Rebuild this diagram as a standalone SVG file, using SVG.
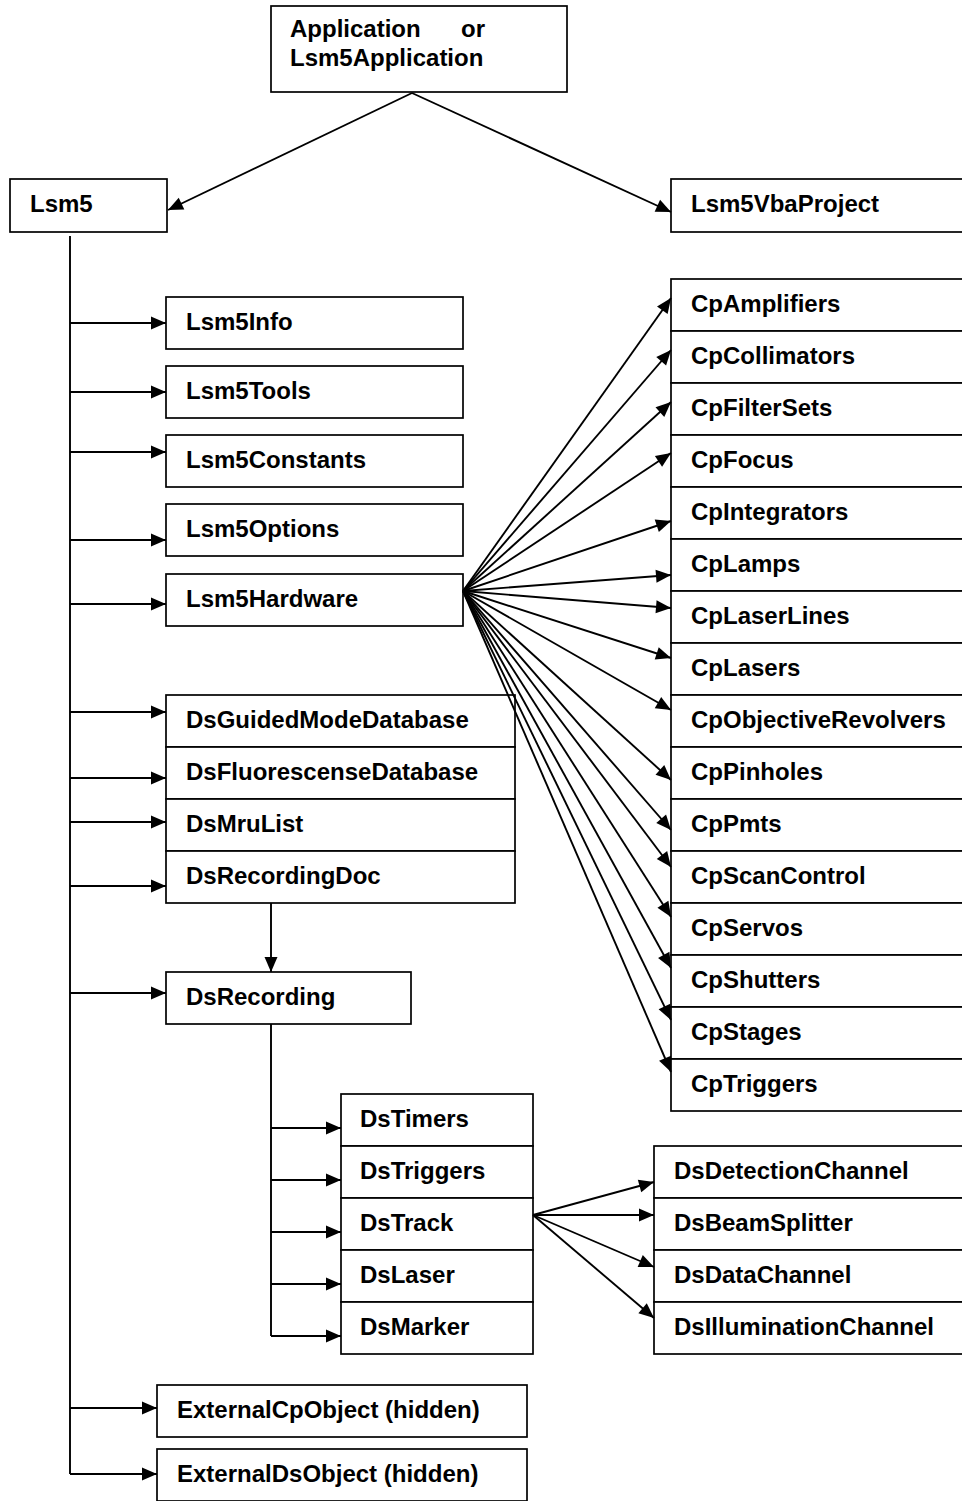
<svg xmlns="http://www.w3.org/2000/svg" width="962" height="1501" viewBox="0 0 962 1501">
<style>
.b{fill:#fff;stroke:#000;stroke-width:1.7}
.t{font-family:"Liberation Sans",Arial,sans-serif;font-weight:bold;font-size:24px;fill:#000}
.c line{stroke:#000;stroke-width:1.9;fill:none}
.c .a{marker-end:url(#ah)}
</style>
<defs>
<marker id="ah" markerUnits="userSpaceOnUse" markerWidth="16" markerHeight="13" refX="15" refY="6.5" orient="auto" overflow="visible">
<path d="M0,0 L15,6.5 L0,13 Z" fill="#000"/>
</marker>
</defs>
<rect width="962" height="1501" fill="#fff"/>

<g id="app"><rect class="b" x="271" y="6" width="296" height="86"/><text class="t" y="37"><tspan x="290">Application</tspan><tspan x="461">or</tspan></text><text class="t" x="290" y="66">Lsm5Application</text></g>
<g id="lsm5"><rect class="b" x="10" y="179" width="157" height="53"/><text class="t" x="30" y="212">Lsm5</text></g>
<g id="vba"><rect class="b" x="671" y="179" width="310" height="53"/><text class="t" x="691" y="212">Lsm5VbaProject</text></g>

<g id="lsm5info"><rect class="b" x="166" y="297" width="297" height="52"/><text class="t" x="186" y="330">Lsm5Info</text></g>
<g id="lsm5tools"><rect class="b" x="166" y="366" width="297" height="52"/><text class="t" x="186" y="399">Lsm5Tools</text></g>
<g id="lsm5constants"><rect class="b" x="166" y="435" width="297" height="52"/><text class="t" x="186" y="468">Lsm5Constants</text></g>
<g id="lsm5options"><rect class="b" x="166" y="504" width="297" height="52"/><text class="t" x="186" y="537">Lsm5Options</text></g>
<g id="lsm5hardware"><rect class="b" x="166" y="574" width="297" height="52"/><text class="t" x="186" y="607">Lsm5Hardware</text></g>

<g id="dsguided"><rect class="b" x="166" y="695" width="349" height="52"/><text class="t" x="186" y="728">DsGuidedModeDatabase</text></g>
<g id="dsfluor"><rect class="b" x="166" y="747" width="349" height="52"/><text class="t" x="186" y="780">DsFluorescenseDatabase</text></g>
<g id="dsmru"><rect class="b" x="166" y="799" width="349" height="52"/><text class="t" x="186" y="832">DsMruList</text></g>
<g id="dsrecdoc"><rect class="b" x="166" y="851" width="349" height="52"/><text class="t" x="186" y="884">DsRecordingDoc</text></g>
<g id="dsrec"><rect class="b" x="166" y="972" width="245" height="52"/><text class="t" x="186" y="1005">DsRecording</text></g>

<g id="dstimers"><rect class="b" x="341" y="1094" width="192" height="52"/><text class="t" x="360" y="1127">DsTimers</text></g>
<g id="dstriggers"><rect class="b" x="341" y="1146" width="192" height="52"/><text class="t" x="360" y="1179">DsTriggers</text></g>
<g id="dstrack"><rect class="b" x="341" y="1198" width="192" height="52"/><text class="t" x="360" y="1231">DsTrack</text></g>
<g id="dslaser"><rect class="b" x="341" y="1250" width="192" height="52"/><text class="t" x="360" y="1283">DsLaser</text></g>
<g id="dsmarker"><rect class="b" x="341" y="1302" width="192" height="52"/><text class="t" x="360" y="1335">DsMarker</text></g>

<g id="dsdetection"><rect class="b" x="654" y="1146" width="320" height="52"/><text class="t" x="674" y="1179">DsDetectionChannel</text></g>
<g id="dsbeam"><rect class="b" x="654" y="1198" width="320" height="52"/><text class="t" x="674" y="1231">DsBeamSplitter</text></g>
<g id="dsdata"><rect class="b" x="654" y="1250" width="320" height="52"/><text class="t" x="674" y="1283">DsDataChannel</text></g>
<g id="dsillum"><rect class="b" x="654" y="1302" width="320" height="52"/><text class="t" x="674" y="1335">DsIlluminationChannel</text></g>

<g id="extcp"><rect class="b" x="157" y="1385" width="370" height="52"/><text class="t" x="177" y="1418">ExternalCpObject (hidden)</text></g>
<g id="extds"><rect class="b" x="157" y="1449" width="370" height="52"/><text class="t" x="177" y="1482">ExternalDsObject (hidden)</text></g>

<g id="cpamplifiers"><rect class="b" x="671" y="279" width="310" height="52"/><text class="t" x="691" y="312">CpAmplifiers</text></g>
<g id="cpcollimators"><rect class="b" x="671" y="331" width="310" height="52"/><text class="t" x="691" y="364">CpCollimators</text></g>
<g id="cpfiltersets"><rect class="b" x="671" y="383" width="310" height="52"/><text class="t" x="691" y="416">CpFilterSets</text></g>
<g id="cpfocus"><rect class="b" x="671" y="435" width="310" height="52"/><text class="t" x="691" y="468">CpFocus</text></g>
<g id="cpintegrators"><rect class="b" x="671" y="487" width="310" height="52"/><text class="t" x="691" y="520">CpIntegrators</text></g>
<g id="cplamps"><rect class="b" x="671" y="539" width="310" height="52"/><text class="t" x="691" y="572">CpLamps</text></g>
<g id="cplaserlines"><rect class="b" x="671" y="591" width="310" height="52"/><text class="t" x="691" y="624">CpLaserLines</text></g>
<g id="cplasers"><rect class="b" x="671" y="643" width="310" height="52"/><text class="t" x="691" y="676">CpLasers</text></g>
<g id="cpobjrev"><rect class="b" x="671" y="695" width="310" height="52"/><text class="t" x="691" y="728">CpObjectiveRevolvers</text></g>
<g id="cppinholes"><rect class="b" x="671" y="747" width="310" height="52"/><text class="t" x="691" y="780">CpPinholes</text></g>
<g id="cppmts"><rect class="b" x="671" y="799" width="310" height="52"/><text class="t" x="691" y="832">CpPmts</text></g>
<g id="cpscancontrol"><rect class="b" x="671" y="851" width="310" height="52"/><text class="t" x="691" y="884">CpScanControl</text></g>
<g id="cpservos"><rect class="b" x="671" y="903" width="310" height="52"/><text class="t" x="691" y="936">CpServos</text></g>
<g id="cpshutters"><rect class="b" x="671" y="955" width="310" height="52"/><text class="t" x="691" y="988">CpShutters</text></g>
<g id="cpstages"><rect class="b" x="671" y="1007" width="310" height="52"/><text class="t" x="691" y="1040">CpStages</text></g>
<g id="cptriggers"><rect class="b" x="671" y="1059" width="310" height="52"/><text class="t" x="691" y="1092">CpTriggers</text></g>

<g id="connectors" class="c">
<line class="a" x1="412" y1="93" x2="168" y2="210"/>
<line class="a" x1="412" y1="93" x2="671" y2="212"/>
<line x1="70" y1="236" x2="70" y2="1474"/>
<line class="a" x1="70" y1="323" x2="166" y2="323"/>
<line class="a" x1="70" y1="392" x2="166" y2="392"/>
<line class="a" x1="70" y1="452" x2="166" y2="452"/>
<line class="a" x1="70" y1="540" x2="166" y2="540"/>
<line class="a" x1="70" y1="604" x2="166" y2="604"/>
<line class="a" x1="70" y1="712" x2="166" y2="712"/>
<line class="a" x1="70" y1="778" x2="166" y2="778"/>
<line class="a" x1="70" y1="822" x2="166" y2="822"/>
<line class="a" x1="70" y1="886" x2="166" y2="886"/>
<line class="a" x1="70" y1="993" x2="166" y2="993"/>
<line class="a" x1="70" y1="1408" x2="157" y2="1408"/>
<line class="a" x1="70" y1="1474" x2="157" y2="1474"/>
<line class="a" x1="271" y1="903" x2="271" y2="972"/>
<line x1="271" y1="1024" x2="271" y2="1336"/>
<line class="a" x1="271" y1="1128" x2="341" y2="1128"/>
<line class="a" x1="271" y1="1180" x2="341" y2="1180"/>
<line class="a" x1="271" y1="1232" x2="341" y2="1232"/>
<line class="a" x1="271" y1="1284" x2="341" y2="1284"/>
<line class="a" x1="271" y1="1336" x2="341" y2="1336"/>
<line class="a" x1="533" y1="1215" x2="654" y2="1182"/>
<line class="a" x1="533" y1="1215" x2="654" y2="1215"/>
<line class="a" x1="533" y1="1215" x2="654" y2="1267"/>
<line class="a" x1="533" y1="1215" x2="654" y2="1318"/>
<line class="a" x1="463" y1="591" x2="671" y2="298"/>
<line class="a" x1="463" y1="591" x2="671" y2="350"/>
<line class="a" x1="463" y1="591" x2="671" y2="402"/>
<line class="a" x1="463" y1="591" x2="671" y2="453"/>
<line class="a" x1="463" y1="591" x2="671" y2="521"/>
<line class="a" x1="463" y1="591" x2="671" y2="575"/>
<line class="a" x1="463" y1="591" x2="671" y2="608"/>
<line class="a" x1="463" y1="591" x2="671" y2="658"/>
<line class="a" x1="463" y1="591" x2="671" y2="710"/>
<line class="a" x1="463" y1="591" x2="671" y2="780"/>
<line class="a" x1="463" y1="591" x2="671" y2="830"/>
<line class="a" x1="463" y1="591" x2="671" y2="867"/>
<line class="a" x1="463" y1="591" x2="671" y2="917"/>
<line class="a" x1="463" y1="591" x2="671" y2="968"/>
<line class="a" x1="463" y1="591" x2="671" y2="1020"/>
<line class="a" x1="463" y1="591" x2="671" y2="1072"/>
</g>
</svg>
